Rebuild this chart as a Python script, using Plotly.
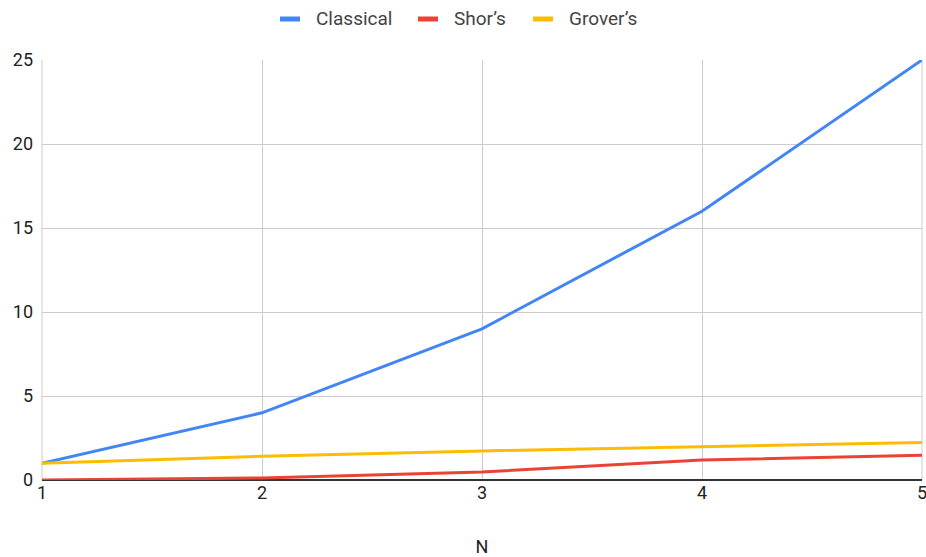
import plotly.graph_objects as go

n_values = [1, 2, 3, 4, 5]
classical = [1, 4, 9, 16, 25]
shors = [0, 0.12, 0.48, 1.19, 1.47]
grovers = [1, 1.414, 1.732, 2.0, 2.236]
y_ticks = [0, 5, 10, 15, 20, 25]

series = [
    ("Classical", classical, "#4285F4"),
    ("Shor’s", shors, "#EA4335"),
    ("Grover’s", grovers, "#FBBC04"),
]

W, H = 926, 557
M = dict(l=42, r=4, t=60, b=77)
PW = W - M["l"] - M["r"]
PH = H - M["t"] - M["b"]


def px_x(px):
    return (px - M["l"]) / PW


def px_y(py):
    return (H - M["b"] - py) / PH


fig = go.Figure()
for name, vals, color in series:
    fig.add_trace(go.Scatter(
        x=n_values, y=vals, name=name, mode="lines",
        line=dict(color=color, width=3),
        cliponaxis=False, showlegend=False,
    ))

# vertical grid lines on both edges of the plot area
for edge in (0, 1):
    fig.add_shape(
        type="line", xref="paper", yref="paper",
        x0=edge, x1=edge, y0=0, y1=1,
        line=dict(color="#cccccc", width=1), layer="below",
    )

# legend row: short thick swatch followed by the series name
legend_x = [(280, 314), (418, 452), (533, 567)]
for (name, _, color), (sx, tx) in zip(series, legend_x):
    fig.add_shape(
        type="rect", xref="paper", yref="paper",
        x0=px_x(sx), x1=px_x(sx + 20), y0=px_y(21.5), y1=px_y(16.5),
        fillcolor=color, line=dict(width=0), layer="above",
    )
    fig.add_annotation(
        text=name, xref="paper", yref="paper",
        x=px_x(tx), y=px_y(19), xanchor="left", yanchor="middle",
        showarrow=False, font=dict(size=19, color="#444444"),
    )

fig.update_layout(
    width=W, height=H,
    margin=dict(M, autoexpand=False),
    paper_bgcolor="white", plot_bgcolor="white",
    font=dict(family="Roboto, Arial, sans-serif", size=18, color="#222222"),
    showlegend=False,
)

fig.update_xaxes(
    range=[1, 5], tickvals=n_values, ticktext=[str(v) for v in n_values],
    showgrid=True, gridcolor="#cccccc", gridwidth=1,
    zeroline=False, showline=False, ticks="",
    ticklabeloverflow="allow", automargin=False,
    title=dict(text="N", font=dict(size=18, color="#222222"), standoff=40),
    tickfont=dict(size=18),
)
fig.update_yaxes(
    range=[0, 25], tickvals=y_ticks,
    showgrid=True, gridcolor="#cccccc", gridwidth=1,
    zeroline=True, zerolinecolor="#333333", zerolinewidth=1.5,
    showline=False, ticks="", ticklabelstandoff=8,
    ticklabeloverflow="allow", automargin=False,
    tickfont=dict(size=18),
)

fig.write_html("out.html")
